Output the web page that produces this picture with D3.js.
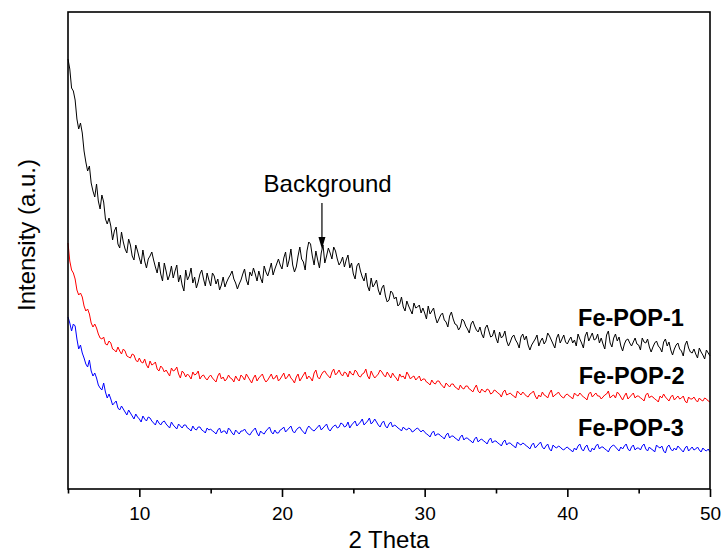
<!DOCTYPE html>
<html>
<head>
<meta charset="utf-8">
<script src="https://cdn.jsdelivr.net/npm/d3@7/dist/d3.min.js"></script>
<style>
    body { margin: 0; background: #fff; }
    svg { display: block; font-family: "Liberation Sans", Arial, sans-serif; }
</style>
</head>
<body>
<div id="chart"></div>
<script>
    // 2 theta grid: 5 -> 50 deg, one reading every 0.125 deg (40 per row = 5 deg)
    var thetaStart = 5
    var thetaStep = 0.125

    // intensities (a.u.)
    var fePop1 = [
        430, 420, 401, 398, 389, 370, 360, 366, 356, 338, 327, 318, 323, 306, 298, 292, 305, 288, 280, 294,
        287, 270, 265, 271, 263, 249, 258, 262, 245, 241, 257, 247, 240, 236, 250, 244, 233, 229, 244, 238,
        231, 225, 239, 228, 221, 230, 233, 237, 229, 222, 216, 227, 215, 208, 226, 218, 209, 214, 223, 211,
        218, 224, 207, 214, 204, 198, 219, 209, 213, 221, 206, 212, 201, 207, 215, 219, 210, 203, 216, 209,
        203, 216, 213, 205, 210, 199, 204, 212, 202, 207, 211, 214, 218, 210, 206, 200, 205, 209, 215, 220,
        209, 204, 217, 213, 221, 215, 208, 218, 211, 206, 223, 217, 213, 219, 226, 214, 220, 225, 230, 224,
        220, 231, 237, 222, 229, 240, 224, 217, 222, 233, 242, 230, 227, 219, 238, 247, 245, 233, 224, 238,
        229, 221, 236, 244, 226, 233, 241, 236, 230, 242, 238, 230, 224, 227, 232, 222, 229, 234, 221, 226,
        215, 210, 223, 226, 218, 212, 208, 216, 203, 198, 211, 202, 205, 209, 199, 194, 201, 204, 193, 187,
        189, 198, 196, 190, 192, 183, 185, 192, 182, 178, 188, 183, 179, 175, 186, 181, 182, 184, 176, 181,
        176, 170, 183, 175, 178, 181, 172, 166, 170, 174, 176, 169, 167, 162, 173, 177, 170, 165, 164, 159,
        162, 170, 168, 163, 160, 156, 165, 168, 163, 159, 157, 162, 155, 151, 161, 164, 158, 152, 153, 159,
        151, 146, 157, 151, 153, 158, 148, 143, 147, 152, 154, 149, 146, 141, 152, 155, 149, 153, 144, 139,
        144, 147, 150, 154, 143, 148, 151, 145, 148, 156, 153, 149, 145, 141, 151, 155, 146, 150, 154, 147,
        145, 149, 152, 146, 149, 143, 155, 150, 146, 141, 153, 157, 148, 152, 156, 149, 150, 155, 146, 151,
        145, 140, 154, 158, 146, 142, 151, 155, 148, 152, 143, 138, 145, 149, 150, 146, 143, 147, 151, 145,
        144, 139, 151, 147, 146, 150, 142, 137, 142, 146, 148, 143, 141, 137, 147, 150, 143, 147, 139, 134,
        140, 144, 146, 140, 138, 133, 144, 148, 141, 137, 136, 140, 135, 131, 141, 137, 134, 130, 139, 136,
        133
    ]
    var fePop2 = [
        246, 228, 219, 216, 210, 199, 194, 196, 192, 183, 178, 180, 175, 166, 162, 165, 161, 155, 151, 150,
        152, 145, 144, 148, 146, 140, 139, 137, 142, 138, 135, 140, 138, 133, 132, 131, 135, 134, 129, 127,
        131, 127, 126, 130, 124, 121, 128, 124, 125, 127, 120, 118, 123, 121, 117, 119, 116, 113, 121, 118,
        119, 122, 115, 111, 118, 116, 112, 115, 113, 110, 117, 114, 115, 118, 110, 113, 114, 111, 109, 112,
        114, 111, 109, 107, 113, 116, 110, 112, 108, 110, 114, 111, 110, 107, 113, 110, 108, 114, 112, 109,
        115, 112, 109, 106, 111, 114, 108, 111, 113, 115, 110, 107, 109, 112, 115, 110, 111, 114, 108, 110,
        113, 116, 110, 112, 115, 111, 109, 106, 112, 115, 108, 111, 114, 117, 110, 113, 111, 108, 116, 119,
        112, 110, 114, 117, 118, 115, 113, 111, 117, 120, 114, 116, 119, 115, 113, 117, 116, 112, 118, 115,
        114, 119, 117, 113, 112, 115, 116, 120, 113, 110, 118, 114, 111, 113, 115, 119, 117, 114, 112, 117,
        114, 111, 116, 113, 111, 108, 115, 112, 113, 110, 117, 114, 110, 112, 113, 109, 111, 113, 108, 110,
        110, 107, 106, 104, 109, 106, 105, 108, 108, 105, 103, 101, 106, 104, 102, 105, 105, 102, 101, 99,
        104, 101, 100, 103, 103, 100, 99, 97, 101, 104, 98, 96, 100, 98, 97, 100, 99, 95, 96, 99,
        98, 96, 95, 92, 97, 99, 94, 95, 96, 94, 93, 91, 98, 96, 94, 97, 95, 93, 92, 95,
        96, 98, 93, 90, 94, 92, 97, 94, 93, 91, 96, 99, 92, 94, 95, 97, 94, 92, 91, 94,
        95, 93, 92, 90, 96, 94, 93, 96, 94, 92, 91, 89, 95, 97, 92, 94, 96, 93, 93, 90,
        92, 94, 95, 98, 91, 93, 94, 91, 97, 95, 92, 89, 93, 96, 90, 92, 94, 96, 91, 93,
        93, 91, 90, 88, 94, 96, 91, 93, 92, 90, 89, 87, 93, 91, 95, 92, 90, 88, 92, 94,
        89, 91, 93, 90, 91, 93, 88, 86, 92, 90, 90, 92, 89, 87, 91, 89, 88, 91, 90, 88,
        87
    ]
    var fePop3 = [
        172, 166, 158, 165, 163, 150, 140, 144, 136, 131, 125, 122, 129, 118, 113, 116, 111, 104, 101, 99,
        106, 97, 91, 95, 90, 84, 86, 88, 81, 79, 83, 80, 77, 74, 79, 76, 73, 70, 75, 72,
        70, 67, 73, 70, 68, 72, 71, 68, 66, 64, 69, 66, 64, 67, 68, 65, 63, 61, 67, 64,
        62, 60, 65, 63, 61, 64, 64, 61, 60, 58, 63, 60, 59, 62, 62, 59, 58, 56, 61, 59,
        60, 58, 57, 55, 59, 61, 56, 58, 58, 55, 61, 59, 56, 54, 59, 57, 55, 58, 58, 60,
        57, 55, 54, 57, 59, 61, 56, 53, 58, 56, 55, 58, 60, 62, 57, 55, 59, 56, 56, 59,
        60, 62, 57, 59, 61, 63, 58, 56, 59, 61, 62, 59, 57, 55, 60, 63, 61, 59, 58, 60,
        62, 64, 59, 61, 63, 65, 60, 58, 61, 63, 64, 61, 62, 66, 65, 62, 63, 67, 61, 64,
        66, 68, 63, 65, 67, 70, 64, 66, 68, 71, 65, 67, 70, 67, 64, 62, 66, 68, 63, 61,
        65, 67, 62, 64, 63, 61, 60, 58, 62, 60, 59, 61, 60, 57, 58, 60, 61, 59, 57, 59,
        57, 55, 54, 52, 56, 58, 53, 55, 55, 53, 52, 50, 54, 56, 51, 53, 53, 51, 50, 48,
        52, 54, 49, 51, 51, 49, 48, 46, 50, 52, 47, 49, 50, 48, 47, 45, 49, 51, 46, 48,
        48, 46, 45, 43, 47, 49, 44, 46, 46, 44, 43, 41, 47, 45, 44, 46, 45, 43, 42, 40,
        44, 46, 41, 43, 45, 47, 42, 40, 43, 45, 40, 38, 44, 42, 41, 43, 42, 40, 39, 41,
        42, 40, 39, 37, 41, 39, 43, 45, 40, 38, 42, 44, 39, 37, 41, 39, 43, 45, 40, 42,
        42, 40, 39, 37, 41, 43, 44, 42, 40, 38, 42, 40, 43, 45, 40, 38, 42, 44, 39, 41,
        41, 39, 43, 45, 40, 38, 42, 40, 39, 37, 44, 42, 41, 43, 38, 36, 42, 44, 40, 38,
        41, 39, 43, 41, 39, 37, 41, 43, 38, 40, 42, 39, 40, 42, 39, 37, 41, 39, 38, 40,
        37
    ]

    var seriesNames = ['Fe-POP-1', 'Fe-POP-2', 'Fe-POP-3']
    var seriesColors = ['#000000', '#ff0000', '#0000ff']
    // where each name sits: [2 theta, intensity]
    var labelSpots = [[40.75, 163], [40.8, 105], [40.75, 53]]

    var majorTicks = [10, 20, 30, 40, 50]
    var minorTicks = [5, 15, 25, 35, 45]

    // "Background" arrow: [2 theta, top, tip] and its text spot
    var bgArrow = [22.8, 286, 240]
    var bgText = [23.2, 297]

    var width = 726
    var height = 554
    var margin = { top: 12, right: 16, bottom: 65, left: 68 }

    var svg = d3.select('#chart')
        .append('svg')
        .attr('width', width)
        .attr('height', height)

    var x = d3.scaleLinear()
        .domain([5, 50])
        .range([margin.left, width - margin.right])

    var y = d3.scaleLinear()
        .domain([0, 477])
        .range([height - margin.bottom, margin.top])

    var line = d3.line()
        .x(function (d, i) { return x(thetaStart + i * thetaStep) })
        .y(function (d) { return y(d) })

    var allSeries = [fePop1, fePop2, fePop3]

    svg.append('g')
        .selectAll('path')
        .data(allSeries)
        .enter()
        .append('path')
        .attr('d', line)
        .attr('fill', 'none')
        .attr('stroke', function (d, i) { return seriesColors[i] })
        .attr('stroke-width', 1)
        .attr('stroke-linejoin', 'round')

    // bottom axis, major ticks with labels
    var xAxis = svg.append('g')
        .attr('transform', 'translate(0,' + (height - margin.bottom) + ')')
        .call(d3.axisBottom(x).tickValues(majorTicks).tickSize(8).tickPadding(10))
    xAxis.select('.domain').remove()
    xAxis.selectAll('line').attr('stroke', '#000').attr('stroke-width', 1.6)
    xAxis.selectAll('text').attr('font-size', 19).attr('fill', '#000')
        .style('font-family', '"Liberation Sans", Arial, sans-serif')

    // minor ticks
    var xMinor = svg.append('g')
        .attr('transform', 'translate(0,' + (height - margin.bottom) + ')')
        .call(d3.axisBottom(x).tickValues(minorTicks).tickSize(4.5).tickFormat(''))
    xMinor.select('.domain').remove()
    xMinor.selectAll('line').attr('stroke', '#000').attr('stroke-width', 1.6)

    // frame
    svg.append('rect')
        .attr('x', x(5))
        .attr('y', y(477))
        .attr('width', x(50) - x(5))
        .attr('height', y(0) - y(477))
        .attr('fill', 'none')
        .attr('stroke', '#000')
        .attr('stroke-width', 1.6)

    // axis titles
    svg.append('text')
        .attr('x', (x(5) + x(50)) / 2)
        .attr('y', 548)
        .attr('text-anchor', 'middle')
        .attr('font-size', 24)
        .text('2 Theta')

    svg.append('text')
        .attr('transform', 'translate(35,235) rotate(-90)')
        .attr('text-anchor', 'middle')
        .attr('font-size', 24)
        .text('Intensity (a.u.)')

    // sample names
    svg.selectAll('.name')
        .data(seriesNames)
        .enter()
        .append('text')
        .attr('class', 'name')
        .attr('x', function (d, i) { return x(labelSpots[i][0]) })
        .attr('y', function (d, i) { return y(labelSpots[i][1]) })
        .attr('font-size', 23.5)
        .attr('font-weight', 'bold')
        .text(function (d) { return d })

    // background annotation
    svg.append('line')
        .attr('x1', x(bgArrow[0]))
        .attr('x2', x(bgArrow[0]))
        .attr('y1', y(bgArrow[1]))
        .attr('y2', y(bgArrow[2]) - 10)
        .attr('stroke', '#000')
        .attr('stroke-width', 1.2)

    svg.append('path')
        .attr('d', 'M' + (x(bgArrow[0]) - 3.5) + ',' + (y(bgArrow[2]) - 12)
            + 'L' + (x(bgArrow[0]) + 3.5) + ',' + (y(bgArrow[2]) - 12)
            + 'L' + x(bgArrow[0]) + ',' + y(bgArrow[2]) + 'Z')
        .attr('fill', '#000')

    svg.append('text')
        .attr('x', x(bgText[0]))
        .attr('y', y(bgText[1]))
        .attr('text-anchor', 'middle')
        .attr('font-size', 24)
        .text('Background')
</script>
</body>
</html>
